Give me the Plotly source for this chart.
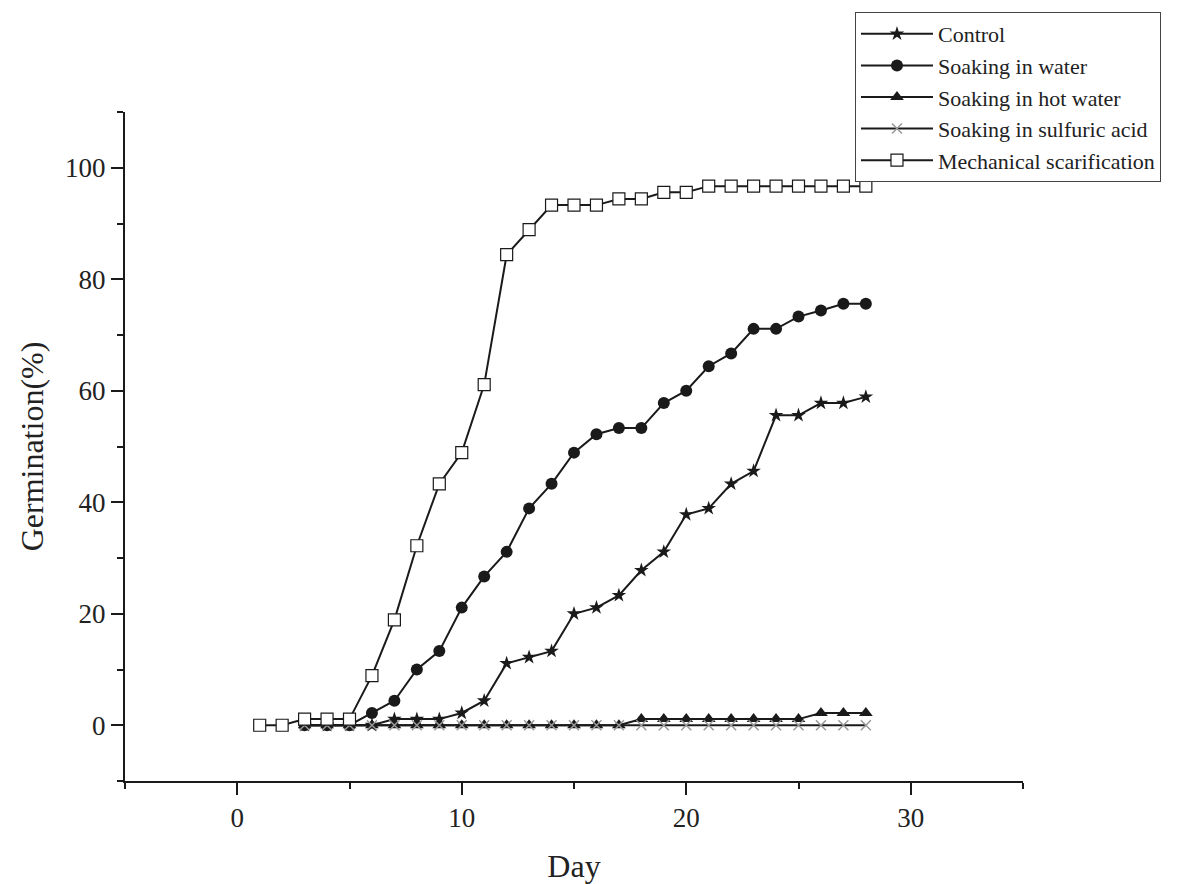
import plotly.graph_objects as go

days = list(range(1, 29))
days_late = list(range(3, 29))

control = [0, 0, 0, 0, 1.1, 1.1, 1.1, 2.2, 4.4, 11.1, 12.2, 13.3, 20.0, 21.1, 23.3,
           27.8, 31.1, 37.8, 38.9, 43.3, 45.6, 55.6, 55.6, 57.8, 57.8, 58.9]
water = [0, 0, 0, 2.2, 4.4, 10.0, 13.3, 21.1, 26.7, 31.1, 38.9, 43.3, 48.9, 52.2, 53.3,
         53.3, 57.8, 60.0, 64.4, 66.7, 71.1, 71.1, 73.3, 74.4, 75.6, 75.6]
hot_water = [0, 0, 0, 0, 0, 0, 0, 0, 0, 0, 0, 0, 0, 0, 0,
             1.1, 1.1, 1.1, 1.1, 1.1, 1.1, 1.1, 1.1, 2.2, 2.2, 2.2]
sulfuric = [0] * 26
mechanical = [0, 0, 1.1, 1.1, 1.1, 8.9, 18.9, 32.2, 43.3, 48.9, 61.1, 84.4, 88.9, 93.3,
              93.3, 93.3, 94.4, 94.4, 95.6, 95.6, 96.7, 96.7, 96.7, 96.7, 96.7, 96.7,
              96.7, 96.7]

names = ["Control", "Soaking in water", "Soaking in hot water",
         "Soaking in sulfuric acid", "Mechanical scarification"]

LINE = "#1a1a1a"
FONT = "Liberation Serif"

fig = go.Figure()
fig.add_trace(go.Scatter(x=days_late, y=control, name=names[0], mode="lines+markers",
                         line=dict(color=LINE, width=2),
                         marker=dict(symbol="star", size=11, color=LINE)))
fig.add_trace(go.Scatter(x=days_late, y=water, name=names[1], mode="lines+markers",
                         line=dict(color=LINE, width=2),
                         marker=dict(symbol="circle", size=12, color=LINE)))
fig.add_trace(go.Scatter(x=days_late, y=hot_water, name=names[2], mode="lines+markers",
                         line=dict(color=LINE, width=2),
                         marker=dict(symbol="triangle-up", size=12, color=LINE)))
fig.add_trace(go.Scatter(x=days_late, y=sulfuric, name=names[3], mode="lines+markers",
                         line=dict(color=LINE, width=2),
                         marker=dict(symbol="x-thin", size=10, color="#999999",
                                     line=dict(color="#999999", width=1.5))))
fig.add_trace(go.Scatter(x=days, y=mechanical, name=names[4], mode="lines+markers",
                         line=dict(color=LINE, width=2),
                         marker=dict(symbol="square", size=12, color="white",
                                     line=dict(color=LINE, width=1.2))))

fig.update_layout(
    width=1184, height=884,
    margin=dict(l=125, r=161, t=112, b=103, autoexpand=False),
    paper_bgcolor="white", plot_bgcolor="white",
    font=dict(family=FONT, color="#222222"),
    showlegend=True,
    legend=dict(x=0.8129, y=1.1495, xanchor="left", yanchor="top",
                bordercolor="#444444", borderwidth=1, bgcolor="white",
                font=dict(family=FONT, size=22, color="#222222"),
                itemwidth=72, tracegroupgap=0),
)
fig.update_xaxes(
    range=[-5, 35], tickmode="linear", tick0=0, dtick=10,
    showgrid=False, zeroline=False, showline=True, linecolor=LINE, linewidth=2,
    ticks="outside", ticklen=12, tickwidth=2, tickcolor=LINE,
    tickfont=dict(family=FONT, size=27, color="#222222"),
    minor=dict(tickmode="linear", tick0=-5, dtick=5, ticks="outside", ticklen=6,
               tickwidth=2, tickcolor=LINE, showgrid=False),
    title=dict(text="Day", font=dict(family=FONT, size=32, color="#222222"), standoff=27),
)
fig.update_yaxes(
    range=[-10, 110], tickmode="linear", tick0=0, dtick=20,
    showgrid=False, zeroline=False, showline=True, linecolor=LINE, linewidth=2,
    ticks="outside", ticklen=12, tickwidth=2, tickcolor=LINE,
    tickfont=dict(family=FONT, size=27, color="#222222"),
    minor=dict(tickmode="linear", tick0=-10, dtick=10, ticks="outside", ticklen=6,
               tickwidth=2, tickcolor=LINE, showgrid=False),
    title=dict(text="Germination(%)", font=dict(family=FONT, size=32, color="#222222"),
               standoff=12),
)

fig.write_html("out.html")
